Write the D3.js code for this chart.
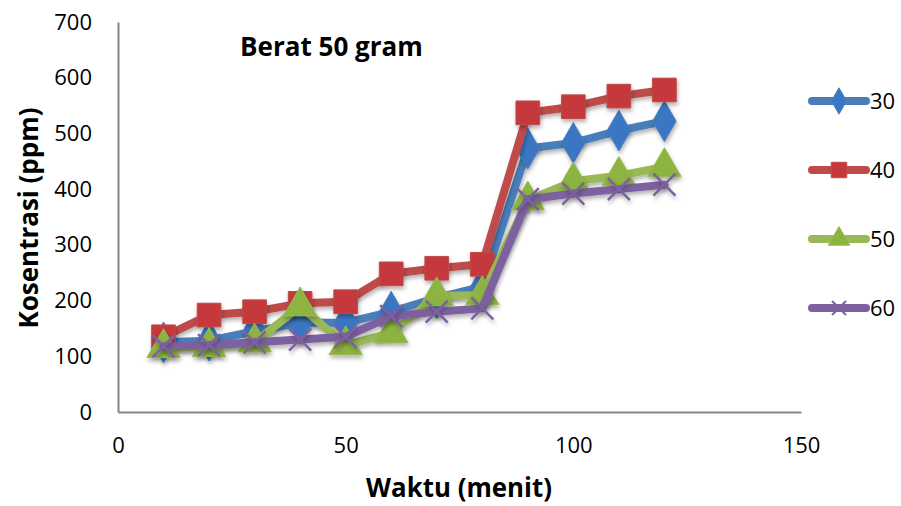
<!DOCTYPE html>
<html><head><meta charset="utf-8">
<script src="https://cdn.jsdelivr.net/npm/d3@7"></script>
<style>body{margin:0;background:#fff}svg{display:block}text{font-family:"Open Sans",sans-serif;fill:#000}</style>
</head><body><svg id="c" width="901" height="506"></svg>
<script>
const times = [10,20,30,40,50,60,70,80,90,100,110,120];
const s30 = [125,128,145,160,160,180,205,225,473,483,505,522];
const s40 = [135,174,180,195,198,248,258,265,537,548,567,578];
const s50 = [115,117,125,190,120,142,208,210,380,414,424,440];
const s60 = [118,120,125,130,135,172,180,186,382,392,400,408];
const seriesNames = ["30","40","50","60"];
const xTicks = [0,50,100,150];
const yTicks = [0,100,200,300,400,500,600,700];
const colors = {"30":"#4A7EBB","40":"#BE4B48","50":"#98B954","60":"#7D60A0"};
const markerFill = {"30":"#3A76C2","40":"#C5393A","50":"#8DB33F","60":"#7D60A0"};
const shapes = {"30":d3.symbolDiamond,"40":d3.symbolSquare,"50":d3.symbolTriangle,"60":d3.symbolCross};
const data = {"30":s30,"40":s40,"50":s50,"60":s60};

const svg = d3.select("#c");
const defs = svg.append("defs");
const f = defs.append("filter").attr("id","sh").attr("x","-50%").attr("y","-50%").attr("width","200%").attr("height","200%");
f.append("feDropShadow").attr("dx",1).attr("dy",3).attr("stdDeviation",2).attr("flood-color","#000").attr("flood-opacity",0.3);

const x = d3.scaleLinear().domain([0,150]).range([118,801]);
const y = d3.scaleLinear().domain([0,700]).range([412,22]);

function fit(sel, target){
  const w = sel.node().getComputedTextLength();
  const fs = parseFloat(sel.style("font-size"));
  sel.style("font-size", (fs*target/w)+"px");
}

// axes
const xa = svg.append("g").attr("transform","translate(0,412)")
  .call(d3.axisBottom(x).tickValues(xTicks).tickSize(0).tickPadding(25));
xa.select(".domain").attr("stroke","#868686").attr("stroke-width",2);
xa.selectAll("text").style("font-size","22px").attr("font-family","Open Sans");
const ya = svg.append("g").attr("transform","translate(118,0)")
  .call(d3.axisLeft(y).tickValues(yTicks).tickSize(0).tickPadding(26));
ya.select(".domain").attr("stroke","#868686").attr("stroke-width",2);
ya.selectAll("text").style("font-size","22px").attr("font-family","Open Sans");

const line = d3.line().x((d,i)=>x(times[i])).y(d=>y(d));
seriesNames.forEach(n=>{
  const g = svg.append("g");
  g.append("path").datum(data[n]).attr("d",line).attr("fill","none")
    .attr("stroke",colors[n]).attr("stroke-width",8).attr("stroke-linejoin","round").attr("stroke-linecap","round")
    .attr("filter","url(#sh)");
  const sym = d3.symbol().type(shapes[n]).size(n==="40"?560:480);
  if(n==="60"){
    g.selectAll("path.m").data(data[n]).enter().append("path").attr("class","m")
      .attr("d","M-11,-11L11,11M-11,11L11,-11")
      .attr("transform",(d,i)=>`translate(${x(times[i])},${y(d)})`)
      .attr("stroke","#7D60A0").attr("stroke-width",2.5).attr("fill","none").attr("filter","url(#sh)");
  } else {
    g.selectAll("path.m").data(data[n]).enter().append("path").attr("class","m")
      .attr("d",sym).attr("transform",(d,i)=>`translate(${x(times[i])},${y(d)})`)
      .attr("fill",markerFill[n]).attr("stroke",colors[n]).attr("stroke-width",1).attr("filter","url(#sh)");
  }
});

// legend
seriesNames.forEach((n,i)=>{
  const ly = 101 + i*69;
  const g = svg.append("g");
  g.append("line").attr("x1",812).attr("x2",866).attr("y1",ly).attr("y2",ly)
    .attr("stroke",colors[n]).attr("stroke-width",8).attr("stroke-linecap","round");
  if(n==="60"){
    g.append("path").attr("d","M-7,-7L7,7M-7,7L7,-7").attr("transform",`translate(839,${ly})`)
      .attr("stroke","#7D60A0").attr("stroke-width",2);
  } else {
    g.append("path").attr("d",d3.symbol().type(shapes[n]).size(n==="40"?240:200))
      .attr("transform",`translate(839,${ly})`).attr("fill",markerFill[n]).attr("stroke",colors[n]);
  }
  g.append("text").attr("x",870).attr("y",ly+8).style("font-size","22px").text(n);
});

const t1 = svg.append("text").attr("x",240).attr("y",56).style("font-size","22px").style("font-weight","bold").text("Berat 50 gram");
fit(t1,183);
const t2 = svg.append("text").attr("x",459).attr("y",497).attr("text-anchor","middle").style("font-size","24px").style("font-weight","bold").text("Waktu (menit)");
fit(t2,186);
const t3 = svg.append("text").attr("transform","translate(38,218) rotate(-90)").attr("text-anchor","middle").style("font-size","24px").style("font-weight","bold").text("Kosentrasi (ppm)");
fit(t3,221);
</script></body></html>
